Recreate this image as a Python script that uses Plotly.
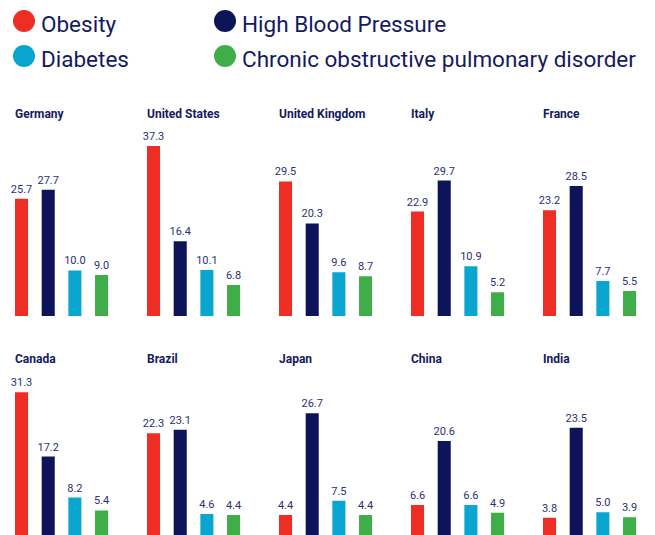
import plotly.graph_objects as go

countries = ["Germany", "United States", "United Kingdom", "Italy", "France",
             "Canada", "Brazil", "Japan", "China", "India"]
obesity = [25.7, 37.3, 29.5, 22.9, 23.2, 31.3, 22.3, 4.4, 6.6, 3.8]
high_bp = [27.7, 16.4, 20.3, 29.7, 28.5, 17.2, 23.1, 26.7, 20.6, 23.5]
diabetes = [10.0, 10.1, 9.6, 10.9, 7.7, 8.2, 4.6, 7.5, 6.6, 5.0]
copd = [9.0, 6.8, 8.7, 5.2, 5.5, 5.4, 4.4, 4.4, 4.9, 3.9]
series_names = ["Obesity", "High Blood Pressure", "Diabetes",
                "Chronic obstructive pulmonary disorder"]
colors = ["#ee2e24", "#0d1459", "#0aa6cf", "#3fae49"]

W, H = 655, 535
NAVY = "#141a5e"
FONT = "Roboto"

fig = go.Figure()
layout = dict(
    width=W, height=H, margin=dict(l=0, r=0, t=0, b=0),
    plot_bgcolor="white", paper_bgcolor="white",
    showlegend=False, bargap=0.51,
    font=dict(family=FONT, color=NAVY),
)
annotations = []
shapes = []

step = 132
span = 106.7
for i, c in enumerate(countries):
    row, col = divmod(i, 5)
    left = 8.2 + step * col
    xd = [left / W, (left + span) / W]
    base = 316 if row == 0 else 535
    yd = [1 - base / H, 1 - (base - 182.4) / H]
    n = i + 1
    xa = "x" if n == 1 else f"x{n}"
    ya = "y" if n == 1 else f"y{n}"
    vals = [obesity[i], high_bp[i], diabetes[i], copd[i]]
    fig.add_trace(go.Bar(
        x=[0, 1, 2, 3], y=vals, marker=dict(color=colors, line=dict(width=0)),
        text=[f"{v:.1f}" for v in vals], textposition="outside",
        constraintext="none",
        textfont=dict(size=11, color="#2b3170", family=FONT),
        cliponaxis=False, xaxis=xa, yaxis=ya, hoverinfo="skip",
    ))
    layout["xaxis" if n == 1 else f"xaxis{n}"] = dict(
        domain=xd, range=[-0.5, 3.5], visible=False, fixedrange=True,
        anchor=ya)
    layout["yaxis" if n == 1 else f"yaxis{n}"] = dict(
        domain=yd, range=[0, 40], visible=False, fixedrange=True,
        anchor=xa)
    title_y = 114 if row == 0 else 359
    annotations.append(dict(
        text=f"<b>{c}</b>", x=(left + 5) / W, y=1 - title_y / H,
        xref="paper", yref="paper", xanchor="left", yanchor="middle",
        showarrow=False, font=dict(size=12, color=NAVY, family=FONT)))

# custom legend with circular markers
leg_pos = [(24, 21), (225, 21), (24, 56), (225, 56)]
for k, (cx, cy) in enumerate(leg_pos):
    r = 11
    shapes.append(dict(
        type="circle", xref="paper", yref="paper",
        x0=(cx - r) / W, x1=(cx + r) / W,
        y0=1 - (cy + r) / H, y1=1 - (cy - r) / H,
        fillcolor=colors[k], line=dict(width=0)))
    annotations.append(dict(
        text=series_names[k], x=(cx + 15) / W, y=1 - (cy + 3) / H,
        xref="paper", yref="paper", xanchor="left", yanchor="middle",
        showarrow=False, font=dict(size=22.5, color=NAVY, family=FONT)))

layout["annotations"] = annotations
layout["shapes"] = shapes
fig.update_layout(**layout)
fig.write_html("out.html")
